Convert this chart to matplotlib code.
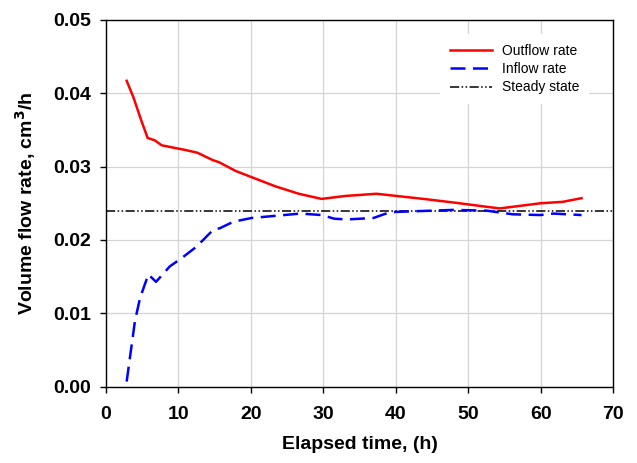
import matplotlib
matplotlib.use("Agg")
import matplotlib.pyplot as plt

plt.rcParams['font.family'] = ['Liberation Sans', 'DejaVu Sans']

out_t = [2.85, 3.8, 4.9, 5.75, 6.7, 7.7, 10.8, 12.6, 14.7, 15.6, 17.9, 20.0, 23.4, 26.6, 29.75, 33.0, 37.3, 43.8, 48.0, 54.3, 59.9, 63.0, 65.6]
out_v = [0.0417, 0.0394, 0.0362, 0.0339, 0.0336, 0.0329, 0.0323, 0.0319, 0.0309, 0.0306, 0.0294, 0.0286, 0.0273, 0.0263, 0.0256, 0.0260, 0.0263, 0.0256, 0.0251, 0.0243, 0.0250, 0.0252, 0.0257]

in_t = [2.85, 4.0, 4.7, 5.84, 6.9, 8.8, 10.4, 12.5, 14.8, 15.7, 17.6, 20.1, 26.8, 29.75, 31.5, 33.2, 36.9, 39.2, 47.9, 52.5, 56.1, 59.9, 61.7, 65.6]
in_v = [0.0007, 0.0090, 0.0121, 0.0153, 0.0143, 0.0164, 0.0175, 0.0191, 0.0214, 0.0216, 0.0225, 0.0230, 0.0236, 0.0234, 0.0229, 0.0228, 0.0230, 0.0238, 0.0241, 0.0240, 0.0235, 0.0234, 0.0236, 0.0234]

steady = 0.0239

fig = plt.figure(figsize=(6.37, 4.63), dpi=100)
ax = fig.add_axes([0.1664, 0.1648, 0.7966, 0.7922])

ax.plot(out_t, out_v, color='#ff0000', lw=1.8, label='Outflow rate', zorder=3)
ax.plot(in_t, in_v, color='#0000ff', lw=1.8, ls=(0, (6, 3)), label='Inflow rate', zorder=3)
ax.axhline(steady, color='black', lw=1.1, ls=(0, (6, 1.6, 1, 1.6, 1, 1.6)), label='Steady state', zorder=2)

ax.set_xlim(0, 70)
ax.set_ylim(0, 0.05)
ax.set_xticks(range(0, 71, 10))
ax.set_yticks([0.0, 0.01, 0.02, 0.03, 0.04, 0.05])
ax.set_yticklabels(['0.00', '0.01', '0.02', '0.03', '0.04', '0.05'])
ax.grid(True, color='#d4d4d4', lw=0.9)
ax.set_axisbelow(True)
ax.tick_params(direction='out', length=4.3, width=1, labelsize=14)
ax.tick_params(axis='x', pad=9.5)
ax.tick_params(axis='y', pad=6.7)
for lbl in ax.get_xticklabels() + ax.get_yticklabels():
    lbl.set_fontweight('bold')
for s in ax.spines.values():
    s.set_linewidth(1.0)

ax.set_xlabel('Elapsed time, (h)', fontsize=14, fontweight='bold', labelpad=9.7)
ax.set_ylabel('Volume flow rate, cm$^\\mathbf{3}$/h', fontsize=14, fontweight='bold', labelpad=10.4)

leg = ax.legend(loc='upper left', bbox_to_anchor=(0.658, 0.962), borderaxespad=0, frameon=True,
                fontsize=10, handlelength=3.0, handletextpad=0.72, borderpad=0.72,
                labelspacing=0.31)
leg.get_frame().set_edgecolor('none')
leg.get_frame().set_facecolor('white')
leg.get_frame().set_alpha(1)
leg.get_frame().set_boxstyle('square', pad=0)

fig.savefig('out.png', dpi=100)
